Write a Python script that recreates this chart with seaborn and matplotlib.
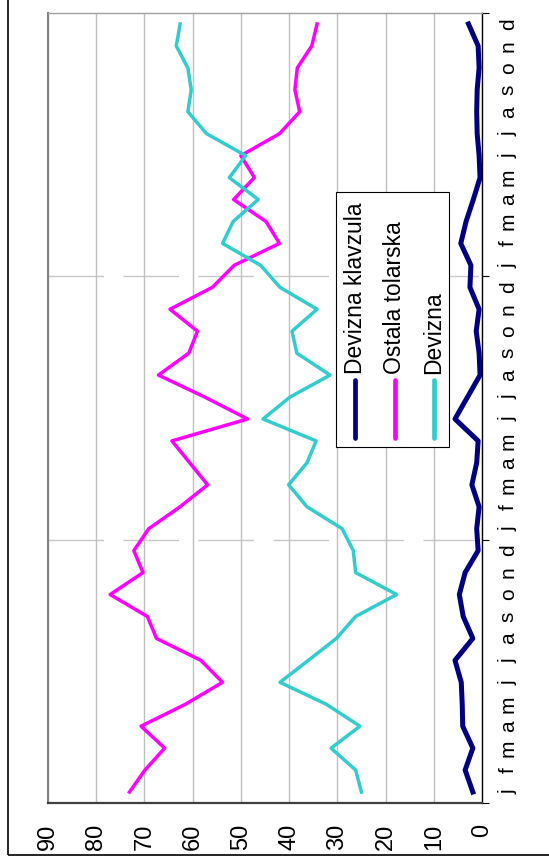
import matplotlib
matplotlib.use("Agg")
import matplotlib.pyplot as plt
from matplotlib.patches import Rectangle
from matplotlib.lines import Line2D
import pandas as pd
import seaborn as sns

# months over three years (chart is drawn turned on its side)
months = list("jfmamjjasond") * 3
series = ["Devizna klavzula", "Ostala tolarska", "Devizna"]
colors = ["#000080", "#ff00ff", "#33cccc"]
widths = [3.6, 2.5, 2.5]
value_ticks = [0, 10, 20, 30, 40, 50, 60, 70, 80, 90]

devizna_klavzula = [1.9, 3.5, 1.9, 4.0, 4.1, 4.3, 5.6, 1.9, 3.9, 4.7, 3.5, 0.8,
                    1.1, 0.6, 2.1, 1.1, 0.8, 5.6, 3.0, 0.4, 0.6, 1.2, 0.6, 2.5,
                    2.3, 4.4, 3.3, 1.8, 0.4, 0.6, 1.0, 1.1, 1.0, 0.6, 0.8, 2.8]
ostala_tolarska = [73.1, 69.9, 65.8, 70.7, 61.5, 53.8, 58.3, 67.5, 69.4, 77.1, 70.3, 72.2,
                   69.1, 62.6, 56.9, 60.6, 64.3, 48.6, 57.5, 67.1, 60.8, 59.0, 64.7, 55.9,
                   51.4, 42.0, 44.8, 51.5, 47.2, 50.0, 42.0, 37.8, 38.8, 38.3, 35.3, 34.2]
devizna = [25.0, 26.2, 31.3, 25.3, 32.3, 41.9, 36.0, 30.2, 26.2, 17.7, 26.2, 26.7,
           29.0, 36.3, 40.1, 36.3, 34.4, 45.4, 39.8, 31.5, 38.4, 39.4, 34.2, 41.9,
           45.9, 53.8, 51.6, 46.4, 52.4, 49.0, 57.1, 61.0, 60.3, 61.0, 63.4, 62.6]

df = pd.DataFrame({
    "idx": list(range(36)) * 3,
    "value": devizna_klavzula + ostala_tolarska + devizna,
    "series": [s for s in series for _ in range(36)],
})

plt.rcParams["font.family"] = ["Liberation Sans", "DejaVu Sans"]

fig = plt.figure(figsize=(5.49, 8.65), dpi=100)
ax = fig.add_axes([48 / 549, 62 / 865, 434 / 549, 790 / 865])

sns.lineplot(data=df, x="value", y="idx", hue="series", size="series",
             palette=dict(zip(series, colors)), sizes=dict(zip(series, widths)),
             sort=False, orient="y", estimator=None, legend=False, ax=ax)

ax.set_xlim(90, 0)
ax.set_ylim(-0.5, 35.5)
ax.set_xlabel("")
ax.set_ylabel("")

# value axis (bottom), labels turned
ax.set_xticks(value_ticks)
ax.set_xticklabels([str(v) for v in value_ticks], rotation=90, fontsize=17)
ax.tick_params(axis="x", length=0, pad=15)
ax.set_axisbelow(True)
ax.grid(axis="x", color="#c0c0c0", lw=1)

# category axis (right)
ax.yaxis.tick_right()
ax.set_yticks([-0.5, 11.5, 23.5, 35.5])
ax.set_yticklabels([])
ax.tick_params(axis="y", which="major", length=5, direction="out", color="black")
ax.set_yticks(range(36), minor=True)
ax.set_yticklabels(months, minor=True, rotation=90, fontsize=15, va="center")
ax.tick_params(axis="y", which="minor", length=0, pad=12)

for yb in [11.5, 23.5]:
    ax.axhline(yb, color="#c8c8c8", lw=1, dashes=(40, 14), zorder=0.5)

ax.spines["left"].set_color("#808080")
ax.spines["left"].set_linewidth(1.5)
ax.spines["top"].set_color("#a0a0a0")
ax.spines["top"].set_linewidth(1)
ax.spines["right"].set_color("black")
ax.spines["right"].set_linewidth(1)
ax.spines["bottom"].set_color("#404040")
ax.spines["bottom"].set_linewidth(1.6)

# legend, turned like the rest of the chart
ax.add_patch(Rectangle((0.664, 0.451), 0.26, 0.322, transform=ax.transAxes,
                       facecolor="white", edgecolor="black", lw=0.8, zorder=5))
for xf, name, c in zip([0.7074, 0.7995, 0.8894], series, colors):
    ax.add_line(Line2D([xf, xf], [0.462, 0.535], transform=ax.transAxes,
                       color=c, lw=3.4, solid_capstyle="round", zorder=6))
    ax.text(xf, 0.543, name, rotation=90, ha="center", va="bottom", fontsize=16.5,
            transform=ax.transAxes, zorder=6)

# outer frame of the picture
fig.add_artist(Rectangle((8 / 549, 10 / 865), 2, 2, transform=fig.transFigure,
                         fill=False, edgecolor="black", lw=1.2))

fig.savefig("out.png", dpi=100)
